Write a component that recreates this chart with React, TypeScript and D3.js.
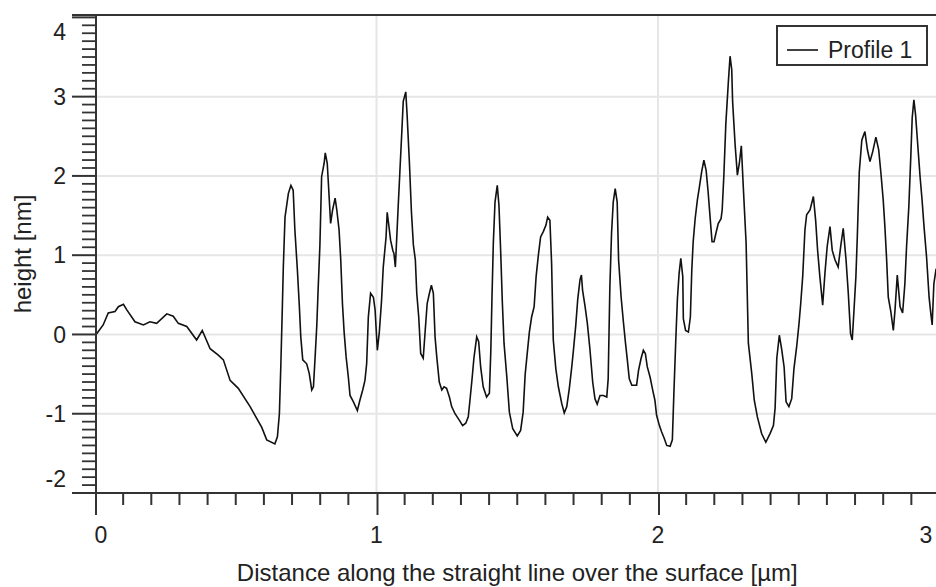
import React from "react";
import * as d3 from "d3";

const X_LABEL = "Distance along the straight line over the surface [µm]";
const Y_LABEL = "height [nm]";
const LEGEND = "Profile 1";
const X_TICKS = [0, 1, 2, 3];
const Y_TICKS = [-2, -1, 0, 1, 2, 3, 4];
const GRID_X = [1, 2, 3];
const GRID_Y = [-1, 0, 1, 2, 3];

const distance = [
  0.004, 0.029, 0.047, 0.071, 0.083, 0.101, 0.113, 0.142, 0.172, 0.195, 0.219, 0.255, 0.278, 0.296, 0.326, 0.361, 0.381, 0.409, 0.438, 0.456,
  0.48, 0.509, 0.551, 0.592, 0.61, 0.639, 0.648, 0.655, 0.66, 0.665, 0.669, 0.675, 0.687, 0.696, 0.704, 0.71, 0.719, 0.726, 0.731, 0.738,
  0.752, 0.761, 0.77, 0.776, 0.782, 0.788, 0.793, 0.799, 0.805, 0.814, 0.818, 0.825, 0.829, 0.837, 0.844, 0.853, 0.859, 0.867, 0.873, 0.879,
  0.885, 0.892, 0.9, 0.906, 0.918, 0.932, 0.941, 0.951, 0.959, 0.965, 0.971, 0.979, 0.989, 0.995, 1.003, 1.01, 1.018, 1.024, 1.034, 1.038,
  1.045, 1.05, 1.058, 1.062, 1.067, 1.072, 1.077, 1.083, 1.09, 1.095, 1.104, 1.109, 1.117, 1.124, 1.131, 1.138, 1.143, 1.15, 1.157, 1.166,
  1.173, 1.18, 1.188, 1.195, 1.202, 1.208, 1.214, 1.223, 1.232, 1.24, 1.249, 1.259, 1.267, 1.279, 1.294, 1.306, 1.317, 1.326, 1.332, 1.34,
  1.346, 1.356, 1.363, 1.37, 1.379, 1.391, 1.401, 1.406, 1.41, 1.415, 1.421, 1.429, 1.435, 1.441, 1.447, 1.453, 1.463, 1.472, 1.484, 1.5,
  1.512, 1.521, 1.528, 1.536, 1.543, 1.551, 1.56, 1.567, 1.575, 1.583, 1.593, 1.602, 1.608, 1.616, 1.622, 1.628, 1.637, 1.646, 1.658, 1.667,
  1.676, 1.685, 1.693, 1.699, 1.708, 1.715, 1.723, 1.728, 1.732, 1.741, 1.749, 1.758, 1.768, 1.776, 1.784, 1.794, 1.806, 1.818, 1.823, 1.829,
  1.835, 1.841, 1.848, 1.855, 1.86, 1.869, 1.877, 1.884, 1.891, 1.898, 1.907, 1.924, 1.931, 1.94, 1.948, 1.955, 1.962, 1.972, 1.981, 1.989,
  1.995, 2.005, 2.013, 2.022, 2.031, 2.043, 2.051, 2.057, 2.063, 2.069, 2.075, 2.081, 2.088, 2.09, 2.098, 2.108, 2.115, 2.12, 2.125, 2.132,
  2.14, 2.147, 2.155, 2.163, 2.171, 2.178, 2.185, 2.192, 2.199, 2.206, 2.214, 2.224, 2.228, 2.234, 2.241, 2.25, 2.256, 2.262, 2.265, 2.274,
  2.282, 2.289, 2.296, 2.303, 2.313, 2.321, 2.333, 2.342, 2.353, 2.368, 2.383, 2.398, 2.41, 2.416, 2.422, 2.431, 2.439, 2.448, 2.455, 2.465,
  2.475, 2.483, 2.493, 2.501, 2.507, 2.514, 2.522, 2.528, 2.54, 2.552, 2.56, 2.567, 2.575, 2.585, 2.593, 2.601, 2.611, 2.619, 2.629, 2.64,
  2.649, 2.658, 2.668, 2.676, 2.684, 2.69, 2.696, 2.703, 2.708, 2.715, 2.724, 2.735, 2.744, 2.753, 2.763, 2.774, 2.784, 2.792, 2.8, 2.806,
  2.812, 2.818, 2.827, 2.836, 2.842, 2.85, 2.86, 2.869, 2.877, 2.883, 2.891, 2.898, 2.903, 2.909, 2.915, 2.924, 2.931, 2.938, 2.945, 2.954,
  2.963, 2.969, 2.974, 2.98, 2.988,
];

const height = [
  0.0, 0.12, 0.27, 0.29, 0.35, 0.38, 0.31, 0.16, 0.12, 0.16, 0.14, 0.26, 0.23, 0.14, 0.1, -0.07, 0.05, -0.18, -0.26, -0.32,
  -0.58, -0.68, -0.91, -1.17, -1.33, -1.38, -1.29, -1.0, -0.41, 0.27, 0.85, 1.48, 1.78, 1.88, 1.82, 1.32, 0.81, 0.35, -0.03, -0.32,
  -0.37, -0.49, -0.7, -0.66, -0.28, 0.12, 0.6, 1.13, 1.99, 2.16, 2.29, 2.16, 1.91, 1.4, 1.57, 1.72, 1.57, 1.32, 0.94, 0.39,
  0.03, -0.28, -0.54, -0.77, -0.85, -0.96, -0.83, -0.7, -0.58, -0.37, 0.22, 0.52, 0.47, 0.31, -0.2, 0.03, 0.43, 0.85, 1.23, 1.54,
  1.34, 1.19, 1.06, 1.02, 0.85, 1.23, 1.61, 2.05, 2.56, 2.94, 3.06, 2.75, 2.16, 1.55, 1.13, 0.94, 0.52, 0.22, -0.24, -0.3,
  0.05, 0.39, 0.52, 0.62, 0.52, -0.03, -0.28, -0.6, -0.7, -0.66, -0.68, -0.79, -0.91, -1.0, -1.08, -1.15, -1.12, -1.04, -0.83, -0.54,
  -0.3, -0.03, -0.09, -0.41, -0.66, -0.79, -0.74, -0.22, 0.43, 1.15, 1.67, 1.88, 1.63, 1.06, 0.41, -0.11, -0.54, -0.98, -1.19, -1.28,
  -1.21, -0.98, -0.51, -0.22, 0.03, 0.22, 0.35, 0.73, 1.0, 1.23, 1.3, 1.38, 1.48, 1.44, 0.9, -0.07, -0.43, -0.66, -0.87, -0.99,
  -0.91, -0.68, -0.43, -0.22, 0.12, 0.45, 0.69, 0.75, 0.56, 0.35, 0.14, -0.18, -0.6, -0.81, -0.88, -0.77, -0.77, -0.79, -0.56, 0.6,
  1.28, 1.67, 1.84, 1.67, 0.94, 0.47, 0.16, -0.09, -0.32, -0.56, -0.64, -0.64, -0.45, -0.3, -0.2, -0.24, -0.41, -0.54, -0.7, -0.83,
  -1.02, -1.15, -1.23, -1.31, -1.4, -1.41, -1.33, -0.68, -0.09, 0.45, 0.77, 0.96, 0.73, 0.2, 0.05, 0.03, 0.22, 0.81, 1.17, 1.46,
  1.7, 1.86, 2.05, 2.2, 2.07, 1.8, 1.48, 1.17, 1.17, 1.28, 1.4, 1.46, 1.57, 2.01, 2.66, 3.19, 3.51, 3.34, 2.94, 2.39,
  2.01, 2.16, 2.38, 1.86, 1.15, -0.11, -0.49, -0.83, -1.04, -1.25, -1.36, -1.25, -1.15, -0.93, -0.3, -0.01, -0.18, -0.41, -0.85, -0.91,
  -0.81, -0.43, -0.14, 0.14, 0.39, 0.73, 1.32, 1.51, 1.57, 1.74, 1.44, 1.06, 0.73, 0.37, 0.77, 1.11, 1.36, 1.06, 0.94, 0.85,
  1.11, 1.34, 0.94, 0.52, 0.01, -0.07, 0.29, 0.73, 1.23, 2.05, 2.45, 2.56, 2.33, 2.18, 2.31, 2.49, 2.33, 2.03, 1.7, 1.36,
  0.96, 0.47, 0.29, 0.05, 0.31, 0.75, 0.35, 0.27, 0.64, 1.11, 1.61, 2.24, 2.73, 2.96, 2.77, 2.33, 1.99, 1.7, 1.36, 0.98,
  0.47, 0.27, 0.12, 0.64, 0.83,
];

const W = 936;
const H = 587;
const FONT = "'Liberation Sans', Arial, sans-serif";
const AXIS = "#333";

export default function App() {
  const x = d3.scaleLinear().domain([0, 3]).range([95, 939.5]);
  const y = d3.scaleLinear().domain([-2, 4.03]).range([493, 15]);
  const left = x(0);
  const bottom = y(-2);
  const top = y(4.03);

  const pts: [number, number][] = distance.map((d, i) => [d, height[i]]);
  const line = d3
    .line<[number, number]>()
    .x((d) => x(d[0]))
    .y((d) => y(d[1]));

  const yMinor = d3.range(-20, 41).map((i) => i / 10).filter((v) => !Y_TICKS.includes(v));
  const xMinor = d3.range(0, 31).map((i) => i / 10).filter((v) => !X_TICKS.includes(v));

  return (
    <svg width={W} height={H} style={{ position: "absolute", left: 0, top: 0, background: "#fff" }}>
      <defs>
        <clipPath id="plot">
          <rect x={left} y={top} width={W - left} height={bottom - top} />
        </clipPath>
      </defs>
      <rect x={0} y={0} width={W} height={H} fill="#fff" />
      {GRID_Y.map((v) => (
        <line key={"gy" + v} x1={left} x2={W} y1={y(v)} y2={y(v)} stroke="#e6e6e6" strokeWidth={2} />
      ))}
      {GRID_X.map((v) => (
        <line key={"gx" + v} x1={x(v)} x2={x(v)} y1={top} y2={bottom} stroke="#e6e6e6" strokeWidth={2} />
      ))}
      <path d={line(pts) || ""} fill="none" stroke="#111" strokeWidth={1.6} clipPath="url(#plot)" />

      {/* y ticks */}
      {yMinor.map((v) => (
        <line key={"ym" + v} x1={82} x2={left + 1} y1={y(v)} y2={y(v)} stroke={AXIS} strokeWidth={1.8} />
      ))}
      {Y_TICKS.map((v) => (
        <line key={"yM" + v} x1={72} x2={left + 1} y1={y(v)} y2={y(v)} stroke={AXIS} strokeWidth={2} />
      ))}
      {/* x ticks */}
      {xMinor.map((v) => (
        <line key={"xm" + v} x1={x(v)} x2={x(v)} y1={bottom} y2={bottom + 12} stroke={AXIS} strokeWidth={2} />
      ))}
      {X_TICKS.map((v) => (
        <line key={"xM" + v} x1={x(v) + 1} x2={x(v) + 1} y1={bottom} y2={bottom + 22} stroke={AXIS} strokeWidth={2} />
      ))}
      {/* frame */}
      <line x1={72} x2={W} y1={top} y2={top} stroke={AXIS} strokeWidth={2} />
      <line x1={72} x2={W} y1={bottom} y2={bottom} stroke={AXIS} strokeWidth={2} />
      <line x1={left + 1} x2={left + 1} y1={top} y2={bottom + 22} stroke={AXIS} strokeWidth={2} />

      {/* y tick labels */}
      {Y_TICKS.map((v) => (
        <text
          key={"yl" + v}
          x={66}
          y={Math.max(32, Math.min(479, y(v)))}
          dy="0.35em"
          textAnchor="end"
          fontFamily={FONT}
          fontSize={23}
          fill="#222"
        >
          {v}
        </text>
      ))}
      {/* x tick labels */}
      {X_TICKS.map((v) => (
        <text
          key={"xl" + v}
          x={Math.max(101, Math.min(926, x(v)))}
          y={543}
          textAnchor="middle"
          fontFamily={FONT}
          fontSize={23}
          fill="#222"
        >
          {v}
        </text>
      ))}
      <text x={x(1.5)} y={581} textAnchor="middle" fontFamily={FONT} fontSize={24} fill="#222">
        {X_LABEL}
      </text>
      <text
        transform={`translate(31,${(top + bottom) / 2}) rotate(-90)`}
        textAnchor="middle"
        fontFamily={FONT}
        fontSize={24}
        fill="#222"
      >
        {Y_LABEL}
      </text>

      {/* legend */}
      <rect x={777} y={26} width={150} height={39} fill="#fff" stroke={AXIS} strokeWidth={2} />
      <line x1={787} x2={818} y1={50} y2={50} stroke="#111" strokeWidth={1.6} />
      <text x={828} y={57.5} fontFamily={FONT} fontSize={23} fill="#222">
        {LEGEND}
      </text>
    </svg>
  );
}
